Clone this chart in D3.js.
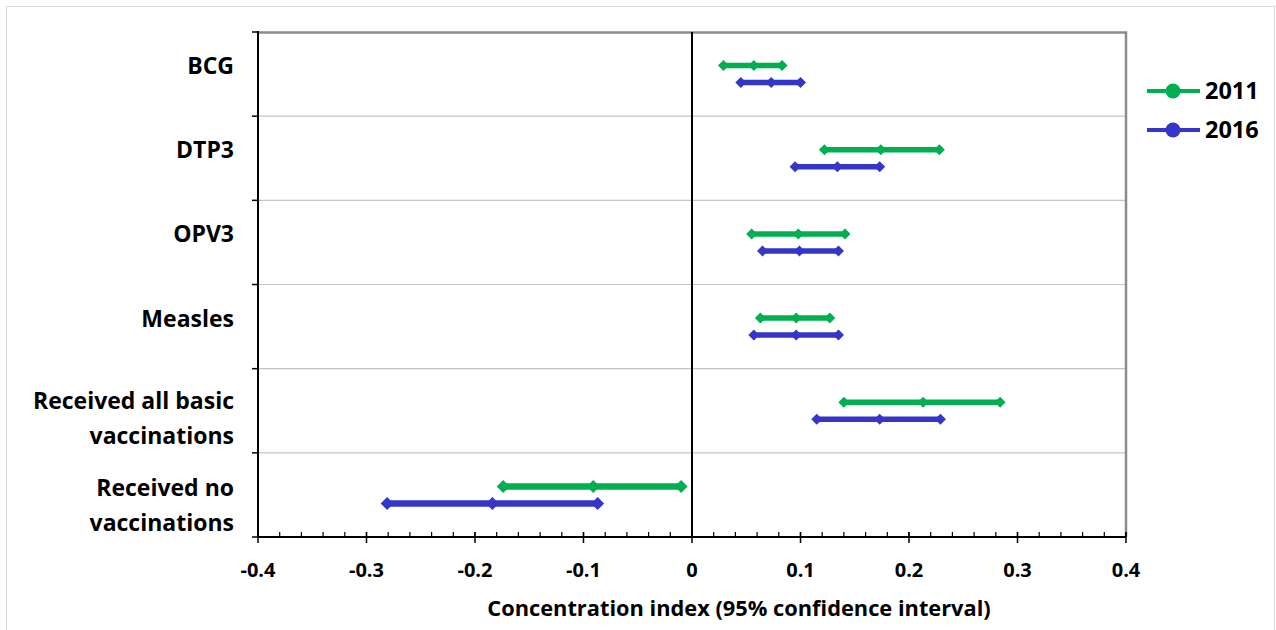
<!DOCTYPE html>
<html>
<head>
<meta charset="utf-8">
<script src="https://cdn.jsdelivr.net/npm/d3@7"></script>
<style>
  html, body { margin: 0; padding: 0; background: #fff; }
  svg { display: block; }
  text { font-family: "Open Sans", Lato, sans-serif; font-weight: bold; fill: #000; }
</style>
</head>
<body>
<svg id="chart" width="1276" height="630"></svg>
<script>
// Vaccination categories (top to bottom); multi-line labels split on "\n"
const categories = ["BCG", "DTP3", "OPV3", "Measles", "Received all basic\nvaccinations", "Received no\nvaccinations"];

// Concentration index: lower bound, point estimate, upper bound
const ci2011Low  = [0.029, 0.122, 0.055, 0.063, 0.140, -0.174];
const ci2011Mid  = [0.057, 0.174, 0.098, 0.096, 0.213, -0.091];
const ci2011High = [0.083, 0.228, 0.141, 0.127, 0.284, -0.010];

const ci2016Low  = [0.045, 0.095, 0.065, 0.057, 0.115, -0.281];
const ci2016Mid  = [0.073, 0.134, 0.099, 0.096, 0.173, -0.184];
const ci2016High = [0.100, 0.173, 0.135, 0.135, 0.229, -0.087];

const seriesNames = ["2011", "2016"];
const xTicks = [-0.4, -0.3, -0.2, -0.1, 0, 0.1, 0.2, 0.3, 0.4];
const xTickLabels = ["-0.4", "-0.3", "-0.2", "-0.1", "0", "0.1", "0.2", "0.3", "0.4"];
const xTitle = "Concentration index (95% confidence interval)";

const colors = { "2011": "#00b050", "2016": "#3535c8" };

const series = [
  { name: "2011", low: ci2011Low, mid: ci2011Mid, high: ci2011High, offset: -8.5 },
  { name: "2016", low: ci2016Low, mid: ci2016Mid, high: ci2016High, offset: 8.5 }
];

const svg = d3.select("#chart");

// outer chart frame
svg.append("rect")
  .attr("x", 6.5).attr("y", 6.5).attr("width", 1268).attr("height", 640)
  .attr("fill", "none").attr("stroke", "#d9d9d9").attr("stroke-width", 1);

const plot = { left: 258, right: 1126, top: 32, bottom: 537 };

const x = d3.scaleLinear().domain([-0.4, 0.4]).range([plot.left, plot.right]);
const y = d3.scaleBand().domain(d3.range(categories.length)).range([plot.top, plot.bottom]).paddingInner(0).paddingOuter(0);

// horizontal gridlines at category boundaries
const bounds = d3.range(categories.length + 1).map(i => plot.top + i * y.step());
svg.append("g").selectAll("line").data(bounds.slice(1, -1)).join("line")
  .attr("x1", plot.left).attr("x2", plot.right)
  .attr("y1", d => d).attr("y2", d => d)
  .attr("stroke", "#c4c4c4").attr("stroke-width", 1.2);

// plot area top and right border
svg.append("path")
  .attr("d", `M${plot.left},${plot.top + 0.5}H${plot.right}V${plot.bottom}`)
  .attr("fill", "none").attr("stroke", "#8c8c8c").attr("stroke-width", 2.5);

// left category axis with ticks at boundaries
svg.append("line")
  .attr("x1", plot.left).attr("x2", plot.left)
  .attr("y1", plot.top - 1).attr("y2", plot.bottom)
  .attr("stroke", "#000").attr("stroke-width", 2);
svg.append("g").selectAll("line").data(bounds).join("line")
  .attr("x1", plot.left - 6).attr("x2", plot.left)
  .attr("y1", d => d).attr("y2", d => d)
  .attr("stroke", "#000").attr("stroke-width", 1.5);

// zero reference line
svg.append("line")
  .attr("x1", x(0)).attr("x2", x(0))
  .attr("y1", plot.top).attr("y2", plot.bottom)
  .attr("stroke", "#000").attr("stroke-width", 2);

// bottom value axis: minor ticks inside, major ticks crossing
const minorTicks = d3.range(-0.4, 0.4001, 0.02);
const gx = svg.append("g");
gx.selectAll("line.minor").data(minorTicks).join("line")
  .attr("class", "minor")
  .attr("x1", d => x(d)).attr("x2", d => x(d))
  .attr("y1", plot.bottom - 5).attr("y2", plot.bottom)
  .attr("stroke", "#000").attr("stroke-width", 1.2);
gx.selectAll("line.major").data(xTicks).join("line")
  .attr("class", "major")
  .attr("x1", d => x(d)).attr("x2", d => x(d))
  .attr("y1", plot.bottom - 5).attr("y2", plot.bottom + 6)
  .attr("stroke", "#000").attr("stroke-width", 1.5);
gx.append("line")
  .attr("x1", plot.left).attr("x2", plot.right)
  .attr("y1", plot.bottom).attr("y2", plot.bottom)
  .attr("stroke", "#000").attr("stroke-width", 2);
gx.selectAll("text").data(xTicks).join("text")
  .attr("x", d => x(d)).attr("y", 577)
  .attr("text-anchor", "middle")
  .style("font-size", "20px")
  .text((d, i) => xTickLabels[i]);

svg.append("text")
  .attr("x", 739).attr("y", 616)
  .attr("text-anchor", "middle")
  .style("font-size", "21.8px")
  .text(xTitle);

// category labels
const labels = svg.append("g");
categories.forEach((c, i) => {
  const lines = c.split("\n");
  const cy = y(i) + y.bandwidth() / 2;
  const t = labels.append("text")
    .attr("x", 234).attr("text-anchor", "end")
    .style("font-size", "23px");
  if (lines.length === 1) {
    t.attr("y", cy - 8).attr("dy", "0.35em").text(c);
  } else {
    const top = i === categories.length - 1 ? cy - 7 : cy - 10;
    lines.forEach((ln, k) => {
      t.append("tspan").attr("x", 234).attr("y", top + k * 35).attr("dy", "0.35em").text(ln);
    });
  }
});

// confidence interval bars with diamond markers
const diamond = (cx, cy, r) => `M${cx},${cy - r}L${cx + r},${cy}L${cx},${cy + r}L${cx - r},${cy}Z`;
series.forEach(s => {
  const g = svg.append("g");
  categories.forEach((c, i) => {
    const cy = y(i) + y.bandwidth() / 2 + s.offset;
    const big = i === categories.length - 1;
    g.append("line")
      .attr("x1", x(s.low[i])).attr("x2", x(s.high[i]))
      .attr("y1", cy).attr("y2", cy)
      .attr("stroke", colors[s.name]).attr("stroke-width", big ? 6.5 : 5.5);
    [s.low[i], s.mid[i], s.high[i]].forEach(v => {
      g.append("path").attr("d", diamond(x(v), cy, big ? 6.5 : 5.5)).attr("fill", colors[s.name]);
    });
  });
});

// legend
const legend = svg.append("g");
seriesNames.forEach((n, i) => {
  const ly = 91 + i * 39;
  legend.append("line").attr("x1", 1147).attr("x2", 1200).attr("y1", ly).attr("y2", ly)
    .attr("stroke", colors[n]).attr("stroke-width", 4);
  legend.append("circle").attr("cx", 1173).attr("cy", ly).attr("r", 7.5).attr("fill", colors[n]);
  legend.append("text").attr("x", 1205).attr("y", ly).attr("dy", "0.36em")
    .style("font-size", "23.5px").text(n);
});
</script>
</body>
</html>
